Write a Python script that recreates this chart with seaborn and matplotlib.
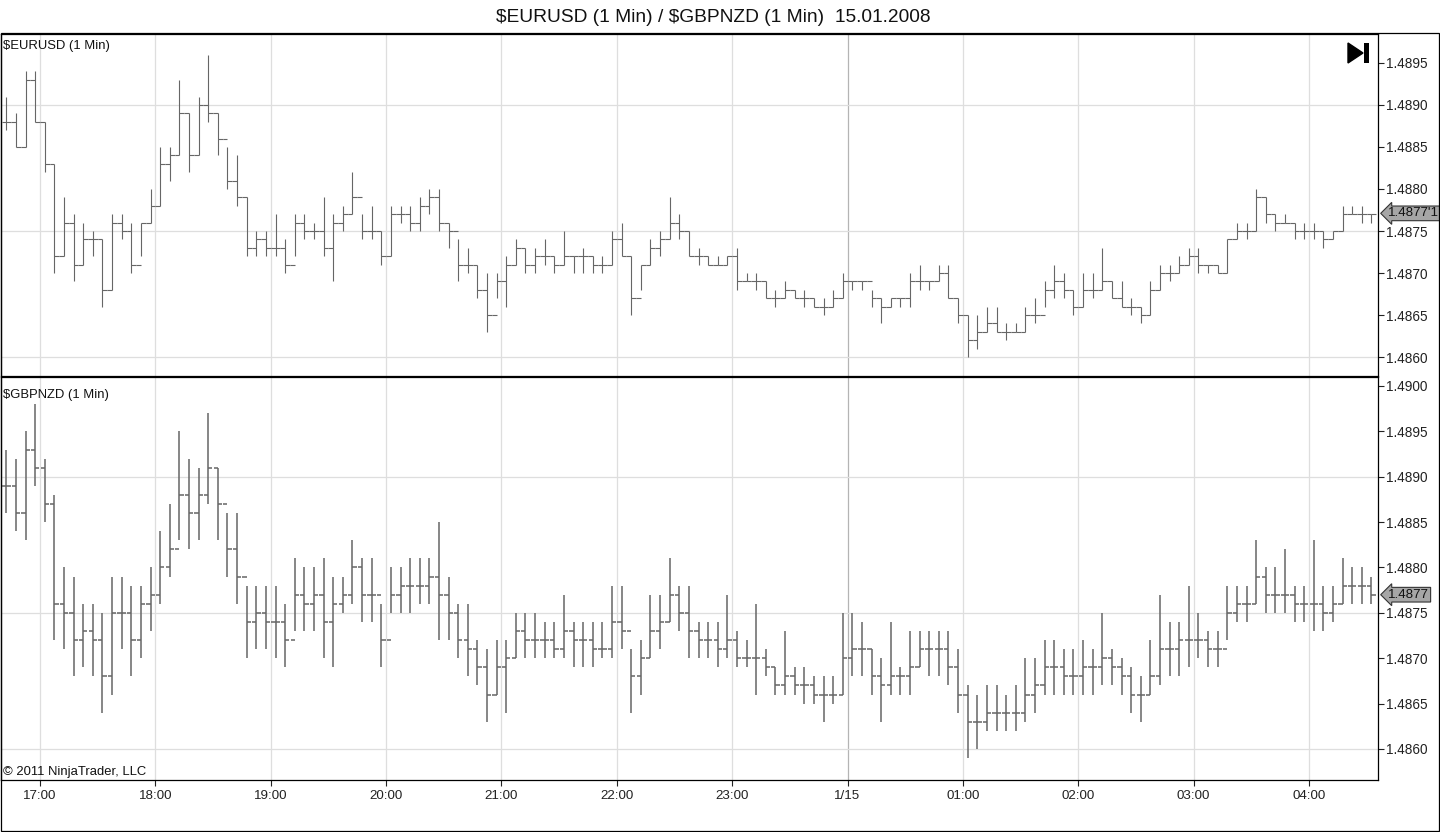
"""
NinjaTrader 1-min chart remake: $EURUSD / $GBPNZD, 15.01.2008
Bars are read off the screenshot and kept at 5-minute resolution.
"""

import numpy as np
import pandas as pd
import matplotlib
matplotlib.use('Agg')
import matplotlib.pyplot as plt
import matplotlib.dates as mdates
from matplotlib.patches import Polygon, Rectangle
import seaborn as sns

sns.set_style('white')
plt.rcParams['font.family'] = ['Liberation Sans', 'DejaVu Sans']

# prices are stored as pips above 1.4800
BASE = 1.4800
BAR_START = '2008-01-14 16:42:30'   # centre of the first 5-min bar

# --- $EURUSD (top panel) ---
EUR_HIGH = [
    91, 89, 94, 94, 88, 83, 79, 77, 76, 75,
    74, 77, 77, 76, 76, 80, 85, 85, 93, 89,
    91, 96, 89, 85, 84, 79, 75, 75, 77, 74,
    77, 77, 76, 79, 77, 78, 82, 77, 78, 75,
    78, 78, 78, 79, 80, 80, 76, 74,
    73, 71, 70, 70, 72, 74, 73, 73, 74, 72,
    75, 72, 73, 72, 72, 75, 76, 72, 71, 74,
    75, 79, 77, 75, 73, 72, 72, 72, 73, 70,
    70, 69, 68, 69, 68, 68, 67, 67, 68, 70,
    69, 69, 68, 67, 67, 67, 70, 71,
    69, 71, 71, 67, 65, 65, 66, 66, 64, 64,
    66, 67, 69, 71, 70, 68, 70, 70, 73, 69,
    69, 67, 66, 69, 71, 71, 72, 73, 73, 71,
    71, 74, 76, 76, 80, 79, 77, 77, 76, 76,
    76, 75, 75, 78, 78, 78, 77,
]
EUR_LOW = [
    87, 85, 85, 88, 82, 70, 72, 69, 71, 72,
    66, 68, 74, 70, 72, 76, 78, 81, 84, 82,
    84, 88, 84, 80, 78, 72, 72, 72, 72, 70,
    72, 74, 74, 72, 69, 75, 77, 74, 74, 71,
    72, 76, 75, 75, 77, 75, 73, 69,
    70, 67, 63, 67, 66, 71, 70, 70, 71, 70,
    71, 70, 70, 70, 70, 71, 72, 65, 68, 71,
    72, 74, 74, 72, 71, 71, 71, 71, 68, 69,
    68, 67, 66, 67, 67, 66, 66, 65, 66, 67,
    68, 68, 66, 64, 66, 66, 66, 68,
    68, 69, 67, 64, 60, 61, 63, 63, 62, 63,
    63, 64, 66, 67, 67, 65, 66, 67, 68, 67,
    66, 65, 64, 65, 68, 69, 70, 71, 70, 70,
    70, 70, 74, 74, 75, 76, 75, 76, 74, 74,
    74, 73, 74, 75, 77, 76, 76,
]
EUR_CLOSE = [
    88, 85, 93, 88, 83, 72, 76, 71, 74, 74,
    68, 76, 75, 71, 76, 78, 83, 84, 89, 84,
    90, 89, 86, 81, 79, 73, 74, 73, 73, 71,
    76, 75, 75, 73, 76, 77, 79, 75, 75, 72,
    77, 77, 76, 78, 79, 76, 75, 71,
    71, 68, 65, 69, 71, 73, 71, 72, 72, 71,
    72, 72, 72, 71, 71, 74, 72, 67, 71, 73,
    74, 76, 75, 72, 72, 71, 71, 72, 69, 69,
    69, 67, 67, 68, 67, 67, 66, 66, 67, 69,
    69, 69, 67, 66, 67, 67, 69, 69,
    69, 70, 67, 65, 62, 63, 64, 63, 63, 63,
    65, 65, 68, 69, 68, 66, 68, 68, 69, 67,
    66, 66, 65, 68, 70, 70, 71, 72, 71, 71,
    70, 74, 75, 75, 79, 77, 76, 76, 75, 75,
    75, 74, 75, 77, 77, 77, 77,
]

# --- $GBPNZD (bottom panel) ---
GBP_HIGH = [
    93, 92, 95, 98, 92, 88, 80, 79, 76, 76,
    75, 79, 79, 78, 78, 80, 84, 87, 95, 92,
    91, 97, 91, 86, 86, 78, 78, 78, 78, 76,
    81, 80, 80, 81, 79, 79, 83, 81, 81, 76,
    80, 80, 81, 81, 81, 85, 79, 76,
    76, 72, 71, 72, 72, 75, 75, 75, 74, 74,
    77, 74, 74, 74, 74, 78, 78, 71, 72, 77,
    77, 81, 78, 78, 74, 74, 74, 77, 73, 72,
    76, 71, 69, 73, 69, 69, 68, 68, 68, 75,
    75, 74, 71, 70, 74, 69, 73, 73,
    73, 73, 73, 71, 67, 66, 67, 67, 66, 67,
    70, 70, 72, 72, 71, 71, 72, 71, 75, 71,
    70, 69, 68, 72, 77, 74, 74, 78, 75, 73,
    73, 78, 78, 78, 83, 80, 80, 82, 78, 78,
    83, 78, 78, 81, 80, 80, 79,
]
GBP_LOW = [
    86, 84, 83, 89, 85, 72, 71, 68, 69, 68,
    64, 66, 71, 68, 70, 73, 76, 79, 83, 82,
    83, 87, 83, 79, 76, 70, 71, 71, 70, 69,
    73, 73, 73, 70, 69, 75, 76, 74, 74, 69,
    75, 75, 75, 76, 76, 72, 72, 70,
    68, 67, 63, 66, 64, 70, 70, 70, 70, 70,
    70, 69, 69, 69, 70, 70, 71, 64, 66, 70,
    71, 74, 73, 70, 70, 70, 69, 70, 69, 69,
    66, 68, 66, 66, 66, 65, 65, 63, 65, 66,
    68, 68, 66, 63, 66, 66, 66, 69,
    68, 68, 67, 64, 59, 60, 62, 62, 62, 62,
    63, 64, 66, 66, 66, 66, 66, 66, 67, 67,
    66, 64, 63, 66, 67, 68, 68, 69, 70, 69,
    69, 72, 74, 74, 76, 75, 75, 75, 74, 74,
    73, 73, 74, 76, 76, 76, 76,
]
GBP_CLOSE = [
    89, 86, 93, 91, 87, 76, 75, 72, 73, 72,
    68, 75, 75, 72, 76, 77, 80, 82, 88, 86,
    88, 91, 87, 82, 79, 74, 75, 74, 74, 72,
    77, 76, 77, 74, 76, 77, 80, 77, 77, 72,
    77, 78, 78, 78, 79, 77, 75, 72,
    71, 69, 66, 69, 70, 73, 72, 72, 72, 71,
    73, 72, 72, 71, 71, 74, 73, 68, 70, 73,
    74, 77, 75, 73, 72, 72, 71, 72, 70, 70,
    70, 69, 67, 68, 67, 67, 66, 66, 66, 70,
    71, 71, 68, 67, 68, 68, 69, 71,
    71, 71, 69, 66, 63, 63, 64, 64, 64, 64,
    66, 67, 69, 69, 68, 68, 69, 69, 70, 69,
    68, 66, 66, 68, 71, 71, 72, 72, 72, 71,
    71, 75, 76, 76, 79, 77, 77, 77, 76, 76,
    76, 75, 76, 78, 78, 78, 77,
]

EUR_LAST = "1.4877'1"
EUR_LAST_PRICE = 1.48771
GBP_LAST = '1.4877'
GBP_LAST_PRICE = 1.4877

TITLE = '\\$EURUSD (1 Min) / \\$GBPNZD (1 Min)  15.01.2008'

BAR_COLOR = '#666666'
GRID_COLOR = '#dedede'
DAY_COLOR = '#b4b4b4'

W, H = 1440, 832


def fx(px):
    return px / W


def fy(py):
    return 1 - py / H


def draw_ohlc(ax, times, high, low, close, tick_min, lw):
    """OHLC bars: open tick left, close tick right (open = previous close)"""
    x = mdates.date2num(times)
    hi = BASE + np.array(high) / 1e4
    lo = BASE + np.array(low) / 1e4
    cl = BASE + np.array(close) / 1e4
    op = np.r_[cl[0], cl[:-1]]
    w = tick_min / (24 * 60)
    ax.vlines(x, lo, hi, color=BAR_COLOR, lw=lw, zorder=3)
    ax.hlines(op, x - w, x, color=BAR_COLOR, lw=lw, zorder=3)
    ax.hlines(cl, x, x + w, color=BAR_COLOR, lw=lw, zorder=3)


def style_panel(ax, ylim, yticks, hours, x0, x1):
    ax.set_xlim(x0, x1)
    ax.set_ylim(*ylim)
    for t in hours:
        ax.axvline(mdates.date2num(t), color=DAY_COLOR if t.hour == 0 else GRID_COLOR,
                   lw=0.9, zorder=1)
    for g in (1.4860, 1.4875, 1.4890):
        ax.axhline(g, color=GRID_COLOR, lw=0.9, zorder=1)
    ax.yaxis.tick_right()
    ax.set_yticks(yticks)
    ax.set_yticklabels([f'{v:.4f}' for v in yticks])
    ax.tick_params(axis='y', direction='out', length=4.5, width=0.8,
                   labelsize=9.8, pad=1.5, colors='#222222', right=True, left=False)
    for s in ax.spines.values():
        s.set_color('black')
        s.set_linewidth(0.9)


times = pd.date_range(BAR_START, periods=len(EUR_CLOSE), freq='5min')
hours = pd.date_range('2008-01-14 17:00', '2008-01-15 04:00', freq='h')
x0 = mdates.date2num(pd.Timestamp('2008-01-14 16:39:43'))
x1 = mdates.date2num(pd.Timestamp('2008-01-15 04:35:53'))

fig = plt.figure(figsize=(W / 100, H / 100), dpi=100)
fig.patch.set_facecolor('white')

ax_top = fig.add_axes([fx(1), fy(376), fx(1378) - fx(1), fy(34) - fy(376)])
ax_bot = fig.add_axes([fx(1), fy(780), fx(1378) - fx(1), fy(377) - fy(780)])

draw_ohlc(ax_top, times, EUR_HIGH, EUR_LOW, EUR_CLOSE, 2.5, 0.8)
draw_ohlc(ax_bot, times, GBP_HIGH, GBP_LOW, GBP_CLOSE, 2.2, 1.1)

style_panel(ax_top, (1.485774, 1.489845), np.arange(1.4860, 1.48951, 0.0005), hours, x0, x1)
style_panel(ax_bot, (1.485658, 1.490099), np.arange(1.4860, 1.49001, 0.0005), hours, x0, x1)

ax_top.tick_params(axis='x', bottom=False, labelbottom=False)
ax_bot.set_xticks(mdates.date2num(hours))
ax_bot.set_xticklabels(['1/15' if t.hour == 0 else t.strftime('%H:%M') for t in hours])
ax_bot.tick_params(axis='x', direction='out', length=4, width=0.8,
                   labelsize=9.6, pad=3, colors='#222222', bottom=True)

# last-price markers on the right scale
for ax, label, price in ((ax_top, EUR_LAST, EUR_LAST_PRICE), (ax_bot, GBP_LAST, GBP_LAST_PRICE)):
    ax.annotate(label, xy=(1, price), xycoords=('axes fraction', 'data'),
                xytext=(7.5, 0), textcoords='offset points', ha='left', va='center',
                fontsize=9.6, color='#111111', annotation_clip=False,
                bbox=dict(boxstyle='larrow,pad=0.1', fc='#a6a6a6', ec='#333333', lw=0.8))

# panel captions
fig.text(fx(3), fy(46), '\\$EURUSD (1 Min)', fontsize=9.4, va='center', ha='left', color='#111111')
fig.text(fx(3), fy(395), '\\$GBPNZD (1 Min)', fontsize=9.4, va='center', ha='left', color='#111111')
fig.text(fx(3), fy(772), '\u00a9 2011 NinjaTrader, LLC', fontsize=9.4, va='center', ha='left',
         color='#111111')
fig.text(fx(713), fy(17), TITLE, fontsize=13.8, va='center', ha='center', color='#111111')

# "scroll to end" icon
fig.add_artist(Polygon([(fx(1348), fy(43)), (fx(1348), fy(63)), (fx(1363), fy(53))],
                       closed=True, fc='black', ec='black', transform=fig.transFigure))
fig.add_artist(Rectangle((fx(1364), fy(63)), fx(1369) - fx(1364), fy(43) - fy(63),
                         fc='black', ec='none', transform=fig.transFigure))

# outer frame
fig.add_artist(Rectangle((fx(0.5), fy(831)), fx(1439) - fx(0.5), fy(33) - fy(831),
                         fill=False, ec='black', lw=0.9, transform=fig.transFigure))

fig.savefig('out.png', dpi=100, facecolor='white')
plt.close(fig)
